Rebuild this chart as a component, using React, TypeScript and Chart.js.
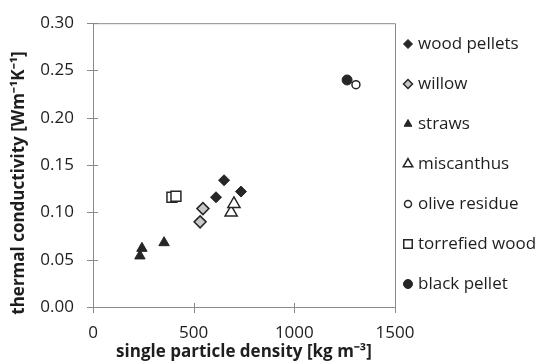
import React, { useEffect, useRef } from 'react';
import { Chart, registerables } from 'chart.js';
import { drawPoint } from 'chart.js/helpers';

Chart.register(...registerables);

// ---- data ----
const seriesNames = ['wood pellets', 'willow', 'straws', 'miscanthus', 'olive residue', 'torrefied wood', 'black pellet'];
const woodPelletsX = [611, 651, 735];
const woodPelletsY = [0.116, 0.134, 0.122];
const willowX = [532, 546];
const willowY = [0.090, 0.104];
const strawsX = [233, 243, 353];
const strawsY = [0.054, 0.062, 0.068];
const miscanthusX = [686, 700];
const miscanthusY = [0.100, 0.109];
const oliveResidueX = [1306];
const oliveResidueY = [0.235];
const torrefiedWoodX = [392, 412];
const torrefiedWoodY = [0.116, 0.117];
const blackPelletX = [1262];
const blackPelletY = [0.240];
const xTicks = [0, 500, 1000, 1500];
const yTicks = [0, 0.05, 0.1, 0.15, 0.2, 0.25, 0.3];
const xTitle = 'single particle density [kg m⁻³]';
const yTitle = 'thermal conductivity [Wm⁻¹K⁻¹]';

const seriesX = [woodPelletsX, willowX, strawsX, miscanthusX, oliveResidueX, torrefiedWoodX, blackPelletX];
const seriesY = [woodPelletsY, willowY, strawsY, miscanthusY, oliveResidueY, torrefiedWoodY, blackPelletY];

// ---- styles ----
const DARK = '#262626';
const TEXT = '#1e1e1e';
const AXIS = '#8a8a8a';
const FONT = "'Open Sans', sans-serif";
const styles = [
  { pointStyle: 'rectRot', bg: DARK, border: DARK, bw: 1, r: 5.5, lr: 4.5 },
  { pointStyle: 'rectRot', bg: '#c8c8c8', border: DARK, bw: 1.5, r: 6, lr: 4.5 },
  { pointStyle: 'triangle', bg: DARK, border: DARK, bw: 1, r: 6, lr: 4.5 },
  { pointStyle: 'triangle', bg: '#ffffff', border: DARK, bw: 1.5, r: 7, lr: 5.5 },
  { pointStyle: 'circle', bg: '#ffffff', border: DARK, bw: 1.5, r: 4, lr: 3.5 },
  { pointStyle: 'rect', bg: '#ffffff', border: DARK, bw: 1.5, r: 7, lr: 6 },
  { pointStyle: 'circle', bg: DARK, border: DARK, bw: 1, r: 5, lr: 4.5 },
];

const framePlugin = {
  id: 'frame',
  beforeDatasetsDraw(chart: any) {
    const { ctx, chartArea } = chart;
    const xs = chart.scales.x;
    const ys = chart.scales.y;
    ctx.save();
    ctx.strokeStyle = AXIS;
    ctx.lineWidth = 1;
    ctx.beginPath();
    ctx.moveTo(chartArea.left, chartArea.top + 0.5);
    ctx.lineTo(chartArea.right + 0.5, chartArea.top + 0.5);
    ctx.lineTo(chartArea.right + 0.5, chartArea.bottom);
    // crossing tick marks
    xTicks.forEach((v) => {
      const px = Math.round(xs.getPixelForValue(v)) + 0.5;
      ctx.moveTo(px, chartArea.bottom - 4);
      ctx.lineTo(px, chartArea.bottom + 6);
    });
    yTicks.forEach((v) => {
      const py = Math.round(ys.getPixelForValue(v)) + 0.5;
      ctx.moveTo(chartArea.left - 6, py);
      ctx.lineTo(chartArea.left + 5, py);
    });
    ctx.stroke();
    // y title
    ctx.fillStyle = TEXT;
    ctx.font = `bold 17px ${FONT}`;
    ctx.textAlign = 'center';
    ctx.textBaseline = 'middle';
    ctx.translate(19, 183);
    ctx.rotate(-Math.PI / 2);
    ctx.fillText(yTitle, 0, 0);
    ctx.restore();
  },
};

const legendPlugin = {
  id: 'sideLegend',
  afterDraw(chart: any) {
    const { ctx } = chart;
    ctx.save();
    chart.data.datasets.forEach((ds: any, i: number) => {
      const st = styles[i];
      const y = 44 + 40 * i;
      ctx.fillStyle = st.bg;
      ctx.strokeStyle = st.border;
      ctx.lineWidth = st.bw;
      drawPoint(ctx, { pointStyle: st.pointStyle, radius: st.lr, borderWidth: st.bw, rotation: 0 } as any, 408, y);
      ctx.fillStyle = TEXT;
      ctx.font = `17px ${FONT}`;
      ctx.textBaseline = 'middle';
      ctx.textAlign = 'left';
      ctx.fillText(ds.label, 418, y);
    });
    ctx.restore();
  },
};

export default function App() {
  const ref = useRef<HTMLCanvasElement>(null);
  useEffect(() => {
    const datasets = seriesNames.map((name, i) => ({
      label: name,
      data: seriesX[i].map((x, j) => ({ x, y: seriesY[i][j] })),
      pointStyle: styles[i].pointStyle,
      pointRadius: styles[i].r,
      backgroundColor: styles[i].bg,
      borderColor: styles[i].border,
      borderWidth: styles[i].bw,
    }));
    const chart = new Chart(ref.current!, {
      type: 'scatter',
      data: { datasets } as any,
      options: {
        responsive: false,
        animation: false,
        layout: { padding: { left: 0, right: 142, top: 23, bottom: 0 } },
        plugins: { legend: { display: false }, tooltip: { enabled: false } },
        scales: {
          x: {
            type: 'linear',
            min: xTicks[0],
            max: xTicks[xTicks.length - 1],
            afterBuildTicks: (s: any) => { s.ticks = xTicks.map((v) => ({ value: v })); },
            afterFit: (s: any) => { s.height = 55; },
            grid: { drawOnChartArea: false, drawTicks: true, tickLength: 6, color: 'rgba(0,0,0,0)' },
            border: { color: AXIS, width: 1 },
            ticks: {
              color: TEXT,
              font: { family: FONT, size: 17 },
              padding: 10,
              maxRotation: 0,
              callback: (v: any) => String(v),
            },
            title: {
              display: true,
              text: xTitle,
              color: TEXT,
              font: { family: FONT, size: 17, weight: 'bold' },
              padding: { top: 0, bottom: 0 },
            },
          },
          y: {
            type: 'linear',
            min: yTicks[0],
            max: yTicks[yTicks.length - 1],
            afterBuildTicks: (s: any) => { s.ticks = yTicks.map((v) => ({ value: v })); },
            afterFit: (s: any) => { s.width = 93; },
            grid: { drawOnChartArea: false, drawTicks: true, tickLength: 6, color: 'rgba(0,0,0,0)' },
            border: { color: AXIS, width: 1 },
            ticks: {
              color: TEXT,
              font: { family: FONT, size: 17 },
              padding: 13,
              callback: (v: any) => Number(v).toFixed(2),
            },
            title: { display: false },
          },
        },
      } as any,
      plugins: [framePlugin, legendPlugin],
    });
    return () => chart.destroy();
  }, []);
  return (
    <div style={{ position: 'absolute', left: 0, top: 0, width: 537, height: 362, background: '#fff' }}>
      <canvas ref={ref} width={537} height={362} style={{ display: 'block' }} />
    </div>
  );
}
